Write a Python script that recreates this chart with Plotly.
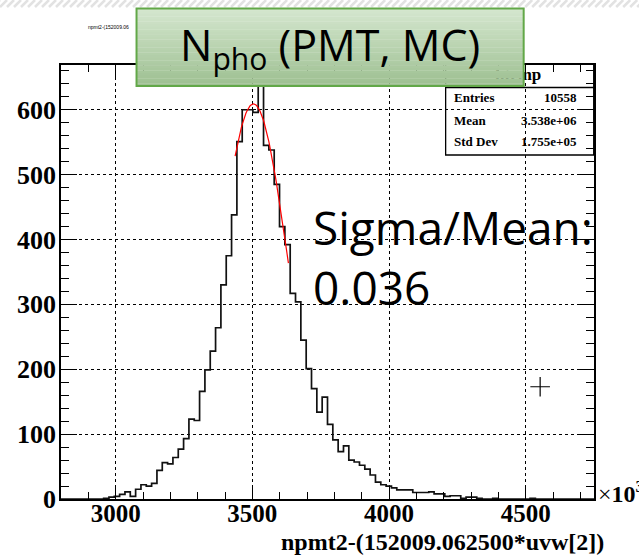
import plotly.graph_objects as go
import math

# ---------------- data ----------------
BIN_LO, BIN_HI, NBINS = 2800.0, 4750.0, 100          # x in units of 10^3
counts = [0, 0, 0, 0, 0, 0, 0, 0,
          1, 3, 4, 7, 11, 4, 15, 22, 20, 24,
          44, 56, 54, 64, 77, 93, 123, 121,
          166, 199, 228, 264, 330, 375, 438,
          551, 600, 600, 596, 637,
          545, 538, 485, 420, 392, 317, 304,
          245, 201, 170, 134, 157, 115, 91, 73, 82,
          60, 57, 52, 46, 37, 26, 22, 20, 17,
          14, 14, 14, 10, 10, 10, 11, 8, 8, 4, 5, 5, 1, 3, 3, 1,
          0, 0, 1, 0, 0, 0, 0, 0, 0, 1,
          0, 0, 0, 0, 0, 0, 0, 0, 0, 0, 0]
counts = counts[:NBINS]
fit_amp, fit_mean, fit_sigma = 609.0, 3504.0, 126.0
fit_lo, fit_hi = 3437.0, 3632.0
marker_x, marker_y = [4553.0], [173.0]
x_ticks = [3000, 3500, 4000, 4500]
stats_rows = [("Entries", "10558"), ("Mean", "3.538e+06"), ("Std Dev", "1.755e+05")]

# ---------------- geometry ----------------
FW, FH = 639, 557
L, R, T, B = 61, 593.8, 65, 499
W, H = R - L, B - T
def px(x): return (x - L) / W
def py(y): return (B - y) / H

bw = (BIN_HI - BIN_LO) / NBINS
edges = [BIN_LO + i * bw for i in range(NBINS + 1)]
hx = edges
hy = counts + [counts[-1]]

nfit = 80
fx = [fit_lo + (fit_hi - fit_lo) * i / (nfit - 1) for i in range(nfit)]
fy = [fit_amp * math.exp(-0.5 * ((v - fit_mean) / fit_sigma) ** 2) for v in fx]

fig = go.Figure()
fig.add_trace(go.Scatter(x=hx, y=hy, mode="lines", line=dict(shape="hv", color="#111111", width=1.7),
                         hoverinfo="skip", showlegend=False))
fig.add_trace(go.Scatter(x=fx, y=fy, mode="lines", line=dict(color="#ff0000", width=1.2),
                         showlegend=False))
fig.add_trace(go.Scatter(x=marker_x, y=marker_y, mode="markers",
                         marker=dict(symbol="cross-thin-open", size=14, color="black",
                                     line=dict(color="black", width=1.2)),
                         showlegend=False))
# stats-box title (partly hidden by the green box)
fig.add_trace(go.Scatter(x=[BIN_HI - (R - 518) / (W / (BIN_HI - BIN_LO))], y=[(B - 76) / (H / 669)], mode="text",
                         text=["<b>htemp</b>"], textfont=dict(family="Liberation Serif", size=17, color="black"),
                         cliponaxis=False, showlegend=False))

serif = "Liberation Serif"
axis_common = dict(showline=True, linecolor="black", linewidth=1.5, mirror="ticks",
                   ticks="inside", tickcolor="black", tickwidth=1.3,
                   showgrid=True, gridcolor="black", gridwidth=1, griddash="dot", zeroline=False)
fig.update_xaxes(range=[BIN_LO, BIN_HI], tickvals=x_ticks, ticklen=13, ticklabelstandoff=-9,
                 tickfont=dict(family=serif, size=25, color="black", weight="bold"),
                 minor=dict(dtick=100, tick0=3000, ticks="inside", ticklen=7, tickcolor="black", tickwidth=1.3, showgrid=False),
                 **axis_common)
fig.update_yaxes(range=[0, 669], dtick=100, tick0=0, ticklen=16, ticklabelstandoff=-2,
                 tickfont=dict(family=serif, size=26, color="black", weight="bold"),
                 minor=dict(dtick=20, tick0=0, ticks="inside", ticklen=8, tickcolor="black", tickwidth=1.3, showgrid=False),
                 **axis_common)

shapes = []
# slide background stripes at top
for i in range(-2, 92):
    x0 = i * 7.0
    shapes.append(dict(type="line", xref="paper", yref="paper",
                       x0=px(x0), x1=px(x0 + 7), y0=py(7), y1=py(0),
                       line=dict(color="#e2e2e2", width=2.5), layer="above"))
# stats box (transparent)
shapes.append(dict(type="rect", xref="paper", yref="paper", x0=px(445.5), x1=px(593.5), y0=py(155), y1=py(64),
                   line=dict(color="black", width=1.3), fillcolor="rgba(0,0,0,0)", layer="above"))
shapes.append(dict(type="line", xref="paper", yref="paper", x0=px(445.5), x1=px(593.5), y0=py(87.5), y1=py(87.5),
                   line=dict(color="black", width=1.3), layer="above"))
# green title box with vertical gradient
gx0, gx1, gy0, gy1 = 136.5, 523.5, 8.5, 86.0
nstr = 30
c_top, c_bot = (212, 230, 206), (158, 192, 146)
for i in range(nstr):
    t = i / (nstr - 1)
    col = tuple(int(round(c_top[k] + (c_bot[k] - c_top[k]) * t)) for k in range(3))
    y0 = gy0 + (gy1 - gy0) * i / nstr
    y1 = gy0 + (gy1 - gy0) * (i + 1) / nstr
    shapes.append(dict(type="rect", xref="paper", yref="paper", x0=px(gx0), x1=px(gx1),
                       y0=py(y1 + 0.3), y1=py(y0), line=dict(width=0),
                       fillcolor="rgb(%d,%d,%d)" % col, layer="above"))
shapes.append(dict(type="rect", xref="paper", yref="paper", x0=px(gx0), x1=px(gx1), y0=py(gy1), y1=py(gy0),
                   line=dict(color="#62a848", width=2), fillcolor="rgba(0,0,0,0)", layer="above"))

ann = []
slide_font = "Open Sans"
ann.append(dict(xref="paper", yref="paper", x=px(330), y=py(47), xanchor="center", yanchor="middle",
                text="N<sub>pho</sub> (PMT, MC)", showarrow=False,
                font=dict(family=slide_font, size=43, color="black")))
ann.append(dict(xref="paper", yref="paper", x=px(311), y=py(257), xanchor="left", yanchor="middle",
                text="Sigma/Mean:<br>0.036", showarrow=False, align="left",
                font=dict(family=slide_font, size=46, color="black")))
ann.append(dict(xref="paper", yref="paper", x=px(86), y=py(27), xanchor="left", yanchor="middle",
                text="npmt2-(152009.06", showarrow=False, font=dict(family="Liberation Sans", size=5, color="black")))
ann.append(dict(xref="paper", yref="paper", x=px(606), y=py(542), xanchor="right", yanchor="middle",
                text="<b>npmt2-(152009.062500*uvw[2])</b>", showarrow=False,
                font=dict(family=serif, size=24, color="black")))
ann.append(dict(xref="paper", yref="paper", x=px(596), y=py(492), xanchor="left", yanchor="middle",
                text="×<b>10<sup>3</sup></b>", showarrow=False,
                font=dict(family=serif, size=24, color="black")))
row_y = [98, 120.5, 141.5]
for (lab, val), yy in zip(stats_rows, row_y):
    ann.append(dict(xref="paper", yref="paper", x=px(452), y=py(yy), xanchor="left", yanchor="middle",
                    text="<b>%s</b>" % lab, showarrow=False, font=dict(family=serif, size=13, color="black")))
    ann.append(dict(xref="paper", yref="paper", x=px(579), y=py(yy), xanchor="right", yanchor="middle",
                    text="<b>%s</b>" % val, showarrow=False, font=dict(family=serif, size=13, color="black")))

fig.update_layout(width=FW, height=FH, margin=dict(l=L, r=FW - R, t=T, b=FH - B, pad=0),
                  paper_bgcolor="white", plot_bgcolor="white", shapes=shapes, annotations=ann,
                  showlegend=False)
fig.write_html("out.html", config={"displayModeBar": False},
               post_script="document.body.style.margin='0';document.body.style.overflow='hidden';")
